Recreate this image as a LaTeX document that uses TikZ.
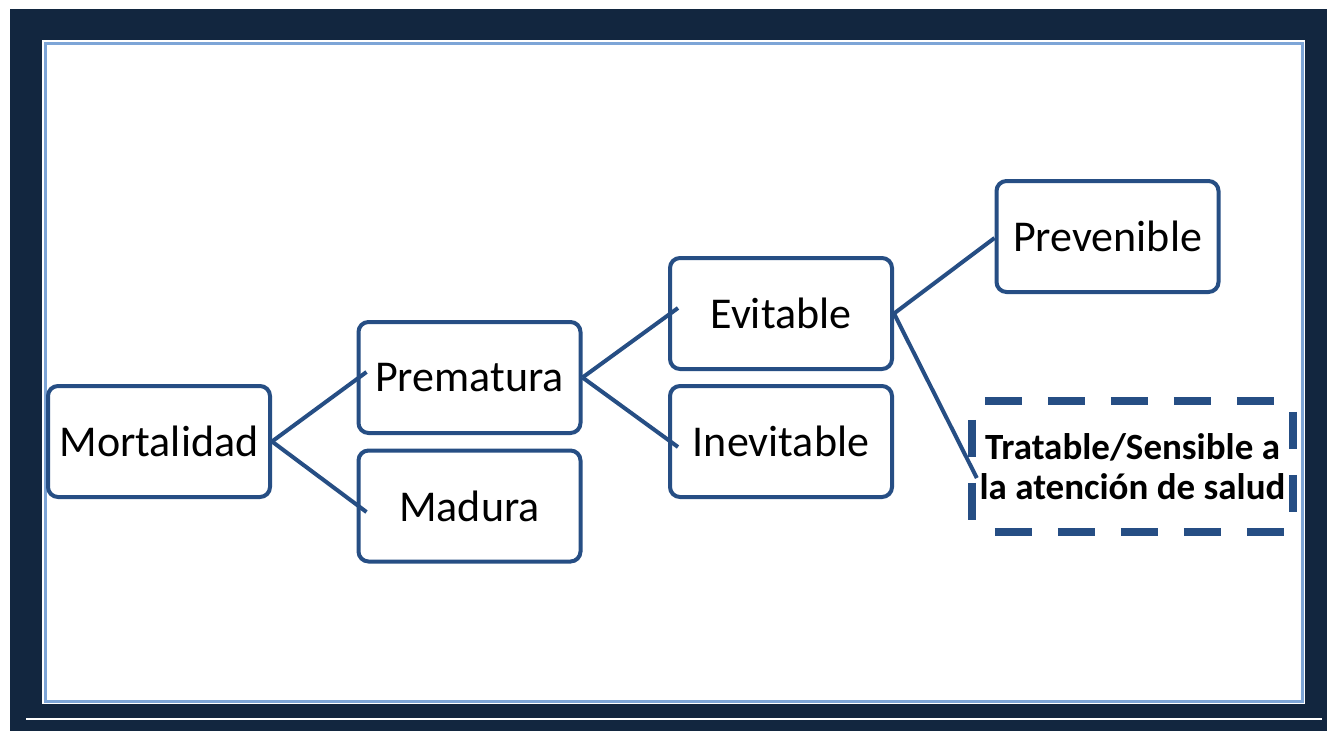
\documentclass[tikz,border=0pt]{standalone}
\usepackage{fontspec}
\setmainfont{Carlito}
\usetikzlibrary{calc}
\definecolor{navy}{RGB}{18,38,63}
\definecolor{boxblue}{RGB}{38,78,132}
\definecolor{lightrim}{RGB}{125,165,215}
\begin{document}
\begin{tikzpicture}[x=1pt,y=-1pt,
  bx/.style={draw=boxblue, line width=4pt, rounded corners=10pt, fill=white,
    minimum width=222pt, minimum height=111pt, inner sep=0pt, font=\fontsize{44}{48}\selectfont},
  conn/.style={draw=boxblue, line width=4pt},
  dsh/.style={draw=boxblue, line width=8pt, dash pattern=on 37pt off 26pt}]
\useasboundingbox (0,0) rectangle (1327,731);
% frame
\fill[white] (0,0) rectangle (1327,731);
\fill[navy] (10,9) rectangle (1327,731);
\fill[white] (42,40) rectangle (1305,704);
\draw[lightrim, line width=3pt] (45.5,43.5) rectangle (1302.5,701.5);
\draw[white, line width=2pt] (26,719) -- (1322,719);
% boxes
\node[bx] (mort) at (159,441.5) {Mortalidad};
\node[bx] (prem) at (469.5,377.5) {Prematura};
\node[bx] (mad)  at (469.5,506) {Madura};
\node[bx] (evit) at (781,313.5) {Evitable};
\node[bx] (inev) at (781,441.5) {Inevitable};
\node[bx] (prev) at (1107.5,236.5) {Prevenible};
\node[minimum width=321pt, minimum height=131pt, inner sep=0pt, align=center,
  font=\fontsize{37}{40}\selectfont\bfseries] (trat) at (1132.5,466.5)
  {Tratable/Sensible a\\la atención de salud};
% dashed outline of the last box, side by side
\draw[dsh, dash phase=50pt] (trat.north west) -- (trat.north east);
\draw[dsh, dash phase=52pt] (trat.north east) -- (trat.south east);
\draw[dsh, dash phase=40pt] (trat.south west) -- (trat.south east);
\draw[dsh, dash phase=44pt] (trat.north west) -- (trat.south west);
% connectors
\coordinate (e1) at ($(prem.west)+(10,-5.5)$);
\coordinate (e2) at ($(mad.west)+(10,6)$);
\coordinate (e3) at ($(evit.west)+(10,-5.5)$);
\coordinate (e4) at ($(inev.west)+(10,5.5)$);
\coordinate (e5) at ($(prev.west)+(0,1.5)$);
\coordinate (e6) at ($(trat.west)+(5,11.5)$);
\draw[conn] (mort.east) -- (e1);
\draw[conn] (mort.east) -- (e2);
\draw[conn] (prem.east) -- (e3);
\draw[conn] (prem.east) -- (e4);
\draw[conn] (evit.east) -- (e5);
\draw[conn] (evit.east) -- (e6);
\end{tikzpicture}
\end{document}
